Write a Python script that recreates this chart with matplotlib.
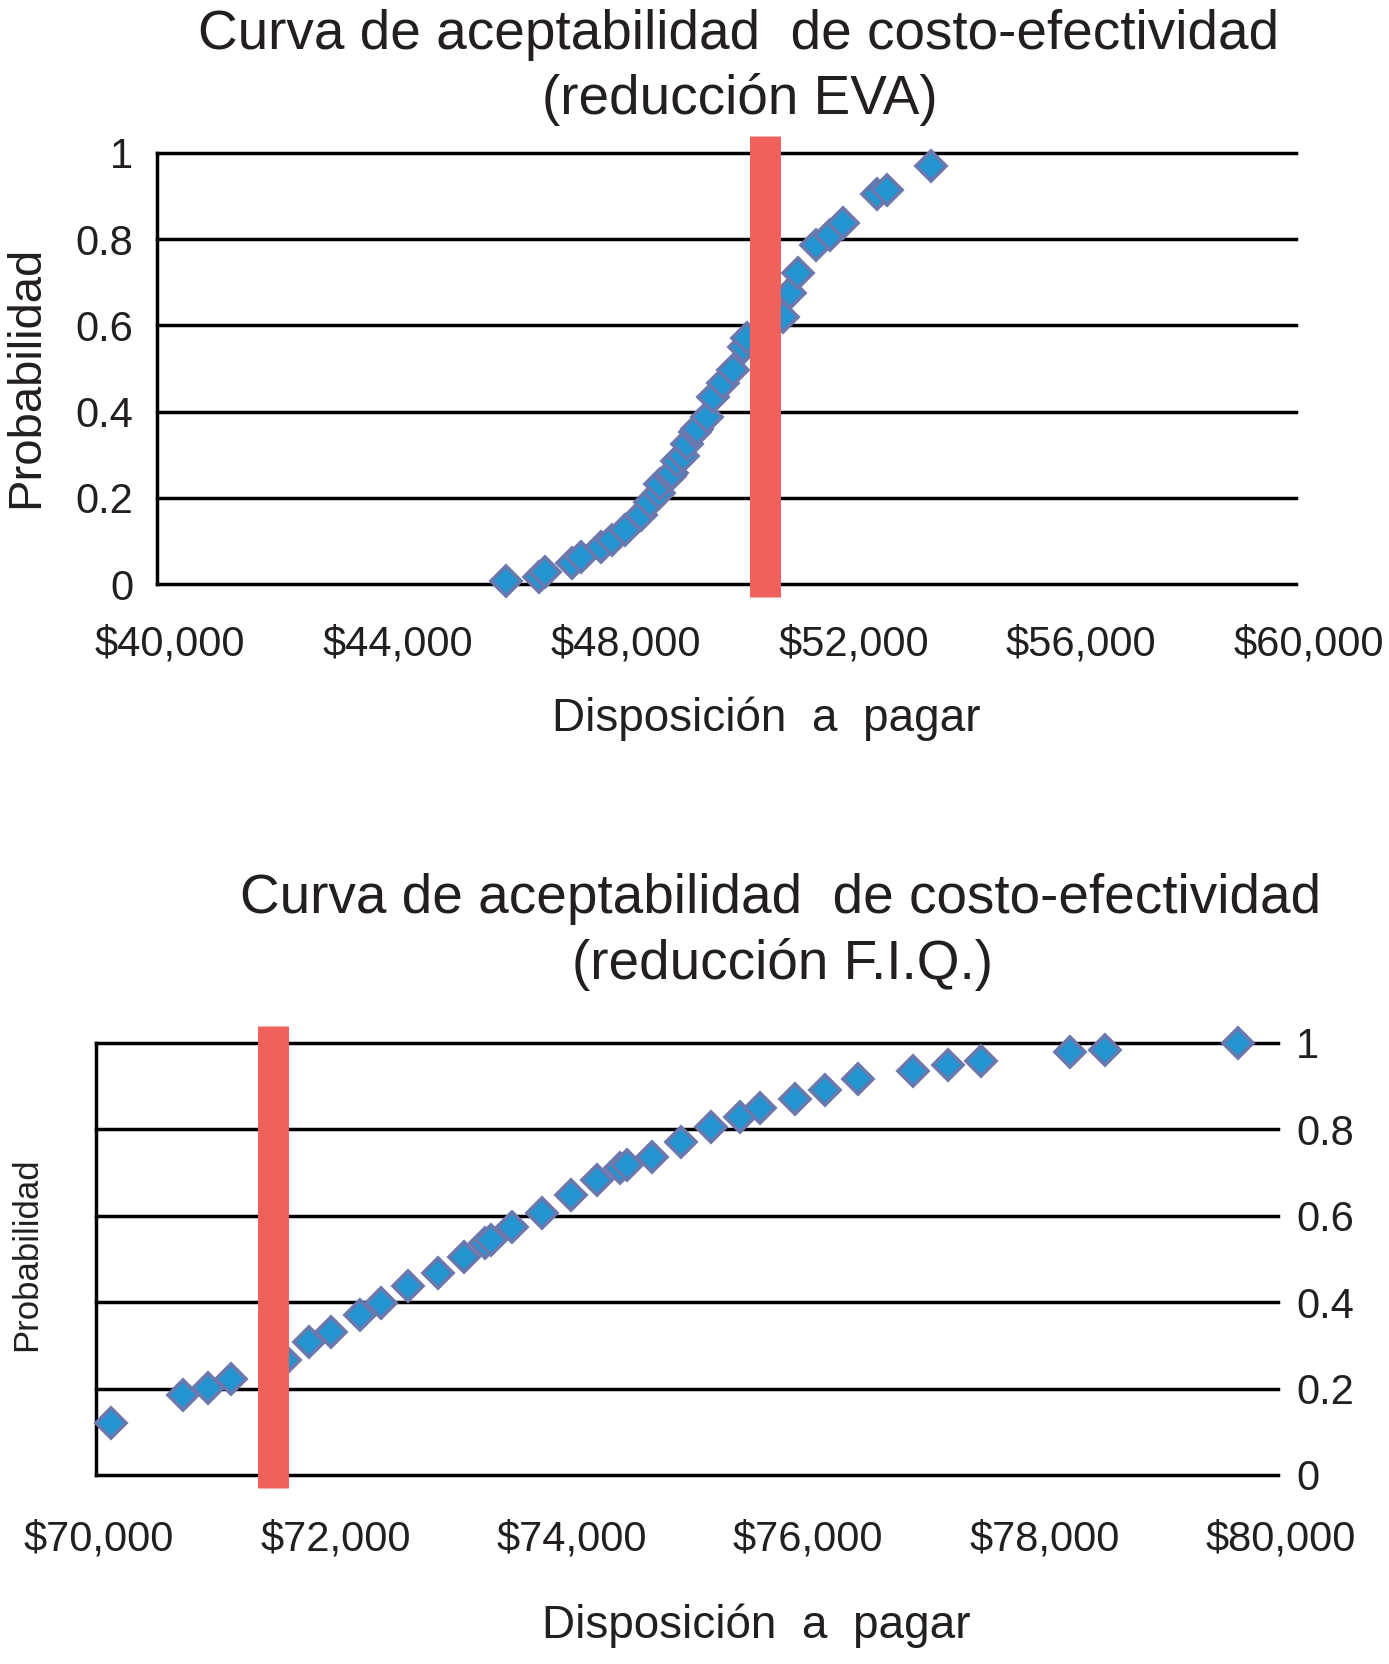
import matplotlib
matplotlib.use('Agg')
import matplotlib.pyplot as plt
from matplotlib.transforms import ScaledTranslation

plt.rcParams['font.family'] = ['Liberation Sans', 'DejaVu Sans']

# curva EVA (arriba)
wtp_eva = [46130, 46700, 46820, 47280, 47450, 47800, 47990, 48220, 48490, 48660,
           48810, 48840, 49010, 49040, 49130, 49240, 49300, 49440, 49480, 49650,
           49770, 49940, 50120, 50300, 50360, 51000, 51120, 51260, 51580, 51820,
           52050, 52640, 52810, 53590]
prob_eva = [0.006, 0.017, 0.029, 0.048, 0.063, 0.086, 0.102, 0.125, 0.160, 0.190,
            0.210, 0.232, 0.250, 0.258, 0.285, 0.297, 0.325, 0.352, 0.360, 0.388,
            0.435, 0.466, 0.497, 0.551, 0.570, 0.620, 0.675, 0.721, 0.786, 0.810,
            0.837, 0.906, 0.915, 0.969]
umbral_eva = 50670
xticks_eva = [40000, 44000, 48000, 52000, 56000, 60000]

# curva F.I.Q. (abajo)
wtp_fiq = [70130, 70740, 70950, 71140, 71600, 71800, 71990, 72230, 72410, 72640,
           72890, 73110, 73290, 73340, 73520, 73770, 74020, 74240, 74430, 74490,
           74700, 74950, 75200, 75450, 75620, 75910, 76170, 76450, 76910, 77210,
           77490, 78240, 78540, 79660]
prob_fiq = [0.120, 0.185, 0.201, 0.222, 0.266, 0.309, 0.332, 0.370, 0.397, 0.437,
            0.467, 0.505, 0.536, 0.544, 0.575, 0.606, 0.647, 0.683, 0.710, 0.718,
            0.737, 0.770, 0.805, 0.828, 0.849, 0.870, 0.891, 0.916, 0.936, 0.949,
            0.958, 0.980, 0.984, 1.000]
umbral_fiq = 71500
xticks_fiq = [70000, 72000, 74000, 76000, 78000, 80000]

yticks = [0, 0.2, 0.4, 0.6, 0.8, 1]
ylabels = ['0', '0.2', '0.4', '0.6', '0.8', '1']

TEXT = '#231f20'
BLUE = '#2394cf'
EDGE = '#6b78ae'
RED = '#ef625c'

fig = plt.figure(figsize=(13.89, 16.64), dpi=100)


def panel(rect, xs, ys, umbral, xticks, right_axis, xpad, xshift):
    ax = fig.add_axes(rect)
    ax.set_xlim(xticks[0], xticks[-1])
    ax.set_ylim(0, 1)
    for s in ['top', 'right', 'bottom']:
        ax.spines[s].set_visible(False)
    ax.spines['left'].set_linewidth(2.5)
    ax.spines['left'].set_color('black')
    for y in yticks:
        ax.axhline(y, color='black', lw=2.5, clip_on=False, zorder=1)
    ax.plot(xs, ys, linestyle='none', marker='D', ms=15.5, mfc=BLUE, mec=EDGE,
            mew=2.6, zorder=3, clip_on=False)
    ax.axvline(umbral, ymin=-0.03, ymax=1.04, color=RED, lw=22.3,
               solid_capstyle='butt', clip_on=False, zorder=4)
    ax.set_xticks(xticks, ['${:,}'.format(v) for v in xticks])
    ax.set_yticks(yticks, ylabels)
    ax.tick_params(axis='x', length=0, pad=xpad, labelsize=30, labelcolor=TEXT)
    if right_axis:
        ax.yaxis.tick_right()
        ax.tick_params(axis='y', length=0, pad=13, labelsize=30, labelcolor=TEXT)
    else:
        ax.tick_params(axis='y', length=0, pad=17, labelsize=30, labelcolor=TEXT)
    off = ScaledTranslation(xshift / 100, 0, fig.dpi_scale_trans)
    for lab in ax.get_xticklabels():
        lab.set_transform(lab.get_transform() + off)
    return ax


ax1 = panel([157 / 1389, 1 - 584 / 1664, 1139 / 1389, 431 / 1664],
            wtp_eva, prob_eva, umbral_eva, xticks_eva, False, 29, 13)
ax2 = panel([96 / 1389, 1 - 1475 / 1664, 1182 / 1389, 432 / 1664],
            wtp_fiq, prob_fiq, umbral_fiq, xticks_fiq, True, 32, 3)

# titulos
fig.text(739 / 1389, 1 - 49 / 1664, 'Curva de aceptabilidad  de costo-efectividad',
         ha='center', va='baseline', fontsize=39.5, color=TEXT)
fig.text(740 / 1389, 1 - 114 / 1664, '(reducción EVA)',
         ha='center', va='baseline', fontsize=39.5, color=TEXT)
fig.text(781 / 1389, 1 - 913 / 1664, 'Curva de aceptabilidad  de costo-efectividad',
         ha='center', va='baseline', fontsize=39.5, color=TEXT)
fig.text(782 / 1389, 1 - 979 / 1664, '(reducción F.I.Q.)',
         ha='center', va='baseline', fontsize=39.5, color=TEXT)

# ejes
fig.text(766 / 1389, 1 - 719 / 1664, 'Disposición  a  pagar',
         ha='center', va='center', fontsize=33, color=TEXT)
fig.text(756 / 1389, 1 - 1626 / 1664, 'Disposición  a  pagar',
         ha='center', va='center', fontsize=33, color=TEXT)
fig.text(26 / 1389, 1 - 377 / 1664, 'Probabilidad', rotation=90,
         ha='center', va='center', fontsize=34, color=TEXT)
fig.text(27 / 1389, 1 - 1254 / 1664, 'Probabilidad', rotation=90,
         ha='center', va='center', fontsize=25, color=TEXT)

fig.savefig('out.png', dpi=100, facecolor='white')
